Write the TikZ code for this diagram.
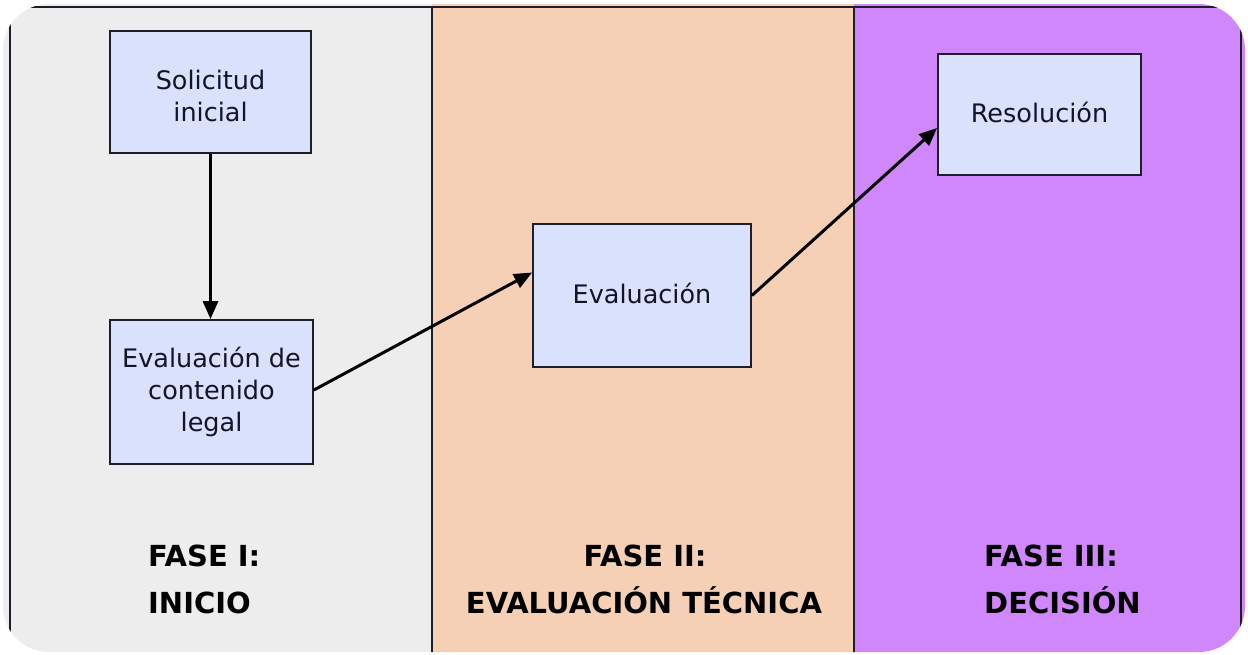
\documentclass[tikz,border=0pt]{standalone}
\usepackage{fontspec}
\setmainfont{DejaVu Sans}
\usetikzlibrary{arrows.meta}
\definecolor{colgray}{HTML}{EDEDED}
\definecolor{colpeach}{HTML}{F5D0B4}
\definecolor{colpurple}{HTML}{D087FB}
\definecolor{boxfill}{HTML}{D9E1FC}
\definecolor{linecol}{HTML}{1E1E2A}
\definecolor{txtcol}{HTML}{141428}
\tikzset{
  procbox/.style={draw=linecol, line width=1.8pt, fill=boxfill, align=center, inner sep=0pt,
    text=txtcol, font=\fontsize{25.5}{32}\selectfont},
  boxtext/.style={align=center, inner sep=0pt, text=txtcol, font=\fontsize{25.5}{32}\selectfont},
  phase/.style={font=\bfseries\fontsize{29}{34}\selectfont, text=black, inner sep=0pt},
  conn/.style={line width=3pt, draw=black, -{Triangle[length=18pt,width=15pt]}},
  frame/.style={draw=linecol, line width=2pt}
}
\begin{document}
\begin{tikzpicture}[x=1pt,y=-1pt]
\useasboundingbox (0,0) rectangle (1248,654);
\begin{scope}
\clip[rounded corners=46pt] (3,4) rectangle (1245,652);
\fill[colgray] (0,0) rectangle (432,654);
\fill[colpeach] (432,0) rectangle (854,654);
\fill[colpurple] (854,0) rectangle (1248,654);
\draw[frame] (10,660) -- (10,7) -- (1241,7) -- (1241,660);
\draw[frame] (432,7) -- (432,660);
\draw[frame] (854,7) -- (854,660);
\end{scope}

\node[procbox, minimum width=201pt, minimum height=122pt,
  label={[boxtext, yshift=-4pt]center:Solicitud\\inicial}] (b1) at (210.5,92) {};
\node[procbox, minimum width=203pt, minimum height=144pt] (b2) at (211.5,392) {Evaluación de\\contenido\\legal};
\node[procbox, minimum width=218pt, minimum height=143pt] (b3) at (642,295.5) {\raisebox{4pt}{Evaluación}};
\node[procbox, minimum width=203pt, minimum height=121pt] (b4) at (1039.5,114.5) {\raisebox{4pt}{Resolución}};

\draw[conn] (b1.south) -- (b1.south |- b2.north);
\draw[conn] ([yshift=2pt]b2.east) -- ([yshift=23pt]b3.west);
\draw[conn] (b3.east) -- ([yshift=-13.5pt]b4.west);

\node[phase, anchor=base west] (p1a) at (148,566) {FASE I:};
\node[phase, anchor=base west] (p1b) at (148,613) {INICIO};
\node[phase, anchor=base] (p2a) at (645,566) {FASE II:};
\node[phase, anchor=base] (p2b) at (644,613) {EVALUACIÓN TÉCNICA};
\node[phase, anchor=base west] (p3a) at (984,566) {FASE III:};
\node[phase, anchor=base west] (p3b) at (984,613) {DECISIÓN};
\end{tikzpicture}
\end{document}
